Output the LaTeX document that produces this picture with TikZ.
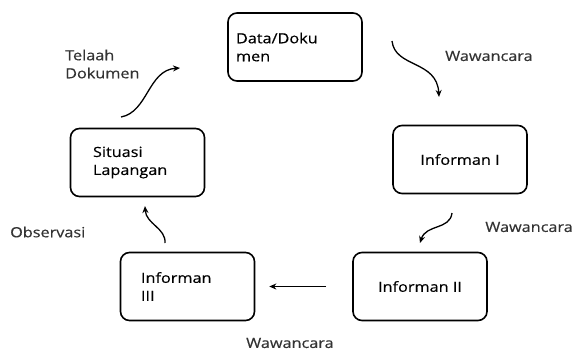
\documentclass[tikz,border=0pt]{standalone}
\usepackage{fontspec}
\setmainfont{Open Sans}[FakeStretch=1.16, FakeBold=0.4]
\usetikzlibrary{arrows.meta, positioning}

\begin{document}
\begin{tikzpicture}[
  x=1pt, y=-1pt,
  box/.style={draw, rounded corners=9pt, line width=1.6pt, minimum width=134pt,
              minimum height=68pt, align=left, font=\fontsize{14}{18}\selectfont},
  lbl/.style={inner sep=0pt, align=left, text=black!80,
              font=\fontsize{14}{18}\selectfont},
  arr/.style={-{Stealth[length=7pt, width=6pt]}, line width=1.3pt},
]
  \useasboundingbox (0,0) rectangle (574,351);

  \node[box, text width=118pt] (data) at (295,47) {Data/Doku\\men};
  \node[box] (inf1) at (460,159.5) {Informan I};
  \node[box] (inf2) at (420,286.5) {Informan II};
  \node[box, text width=93pt] (inf3) at (187.5,286.5) {Informan\\III};
  \node[box, text width=89pt] (situasi) at (137.5,162.5) {Situasi\\Lapangan};

  \node[lbl, anchor=west] (telaah) at (65,64) {Telaah\\Dokumen};
  \node[lbl, anchor=west] (waw1) at (445,56) {Wawancara};
  \node[lbl, anchor=east] (waw2) at (573,227) {Wawancara};
  \node[lbl, anchor=west] (waw3) at (246,343) {Wawancara};
  \node[lbl, anchor=west] (obs) at (10,232) {Observasi};

  % free ends of the wavy arrows
  \coordinate (t0) at (121,117);
  \coordinate (t1) at (180,68);
  \coordinate (w0) at (392,41);
  \coordinate (w1) at (439,97);
  \coordinate (v0) at (452,213);
  \coordinate (v1) at (420,243);
  \coordinate (o0) at (165,243);
  \coordinate (o1) at (145,206);

  \draw[arr] (t0) .. controls (148,112) and (148,70) .. (t1);
  \draw[arr] (w0) .. controls (395,68) and (437,60) .. (w1);
  \draw[arr] (v0) .. controls (450,230) and (426,224) .. (v1);
  \draw[arr] (o0) .. controls (166,228) and (146,224) .. (o1);
  \draw[arr, shorten <=26pt, shorten >=14pt] (inf2) -- (inf3);

\end{tikzpicture}
\end{document}
